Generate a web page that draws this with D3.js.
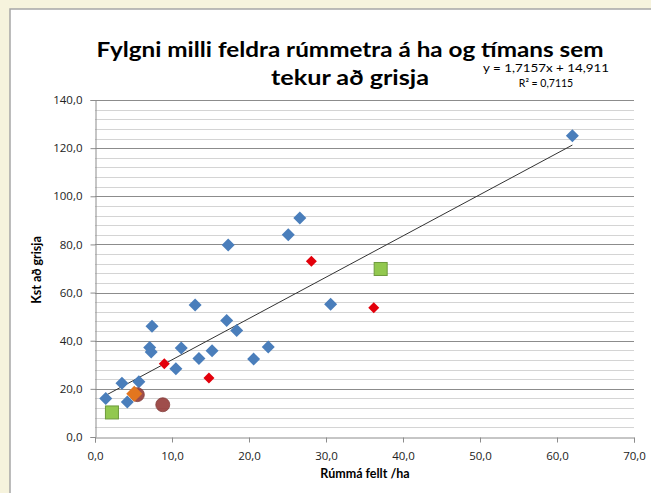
<!DOCTYPE html>
<html><head><meta charset="utf-8">
<script src="https://cdn.jsdelivr.net/npm/d3@7/dist/d3.min.js"></script>
<style>
html,body{margin:0;padding:0;background:#F6F3DD;}
svg{display:block;}
</style></head>
<body>
<svg id="c" width="651" height="493"></svg>
<script>
// ---- data ----
const titleLines = ["Fylgni milli feldra rúmmetra á ha og tímans sem", "tekur að grisja"];
const equationText = "y = 1,7157x + 14,911";
const r2Text = "R² = 0,7115";
const xTitle = "Rúmmá fellt /ha";
const yTitle = "Kst að grisja";
const xTicks = [0, 10, 20, 30, 40, 50, 60, 70];
const yTicks = [0, 20, 40, 60, 80, 100, 120, 140];
const trendSlope = 1.7157;
const trendIntercept = 14.911;

const blueX = [1.4, 3.5, 4.2, 5.7, 7.4, 7.1, 7.3, 10.5, 11.2, 13.0, 13.5, 15.2, 17.3, 17.1, 18.4, 20.6, 22.5, 25.1, 26.6, 30.6, 62.0];
const blueY = [16.0, 22.3, 14.5, 23.0, 46.0, 37.2, 35.3, 28.4, 37.0, 54.8, 32.6, 35.8, 79.8, 48.4, 44.2, 32.4, 37.4, 84.0, 91.0, 55.2, 125.2];
const redX = [9.0, 14.8, 28.1, 36.2];
const redY = [30.4, 24.5, 73.0, 53.7];
const greenX = [2.2, 37.1];
const greenY = [10.2, 69.8];
const brownX = [5.5, 8.8];
const brownY = [17.6, 13.4];
const orangeX = [5.1];
const orangeY = [18.0];

// ---- layout ----
const svg = d3.select("#c");
svg.append("rect").attr("x",10).attr("y",9).attr("width",651).attr("height",500)
  .attr("fill","#fff").attr("stroke","#A6A6A6").attr("stroke-width",1.5);

const x = d3.scaleLinear().domain([0,70]).range([95,634]);
const y = d3.scaleLinear().domain([0,140]).range([437,100]);

// gridlines (minor every 4, major every 20)
const minor = d3.range(0,141,4).filter(v=>v%20!==0);
svg.append("g").selectAll("line").data(minor).join("line")
  .attr("x1",x(0)).attr("x2",x(70)).attr("y1",d=>Math.round(y(d))+0.5).attr("y2",d=>Math.round(y(d))+0.5)
  .attr("stroke","#D4D4D4").attr("stroke-width",1);
svg.append("g").selectAll("line").data(yTicks.filter(v=>v>0)).join("line")
  .attr("x1",x(0)).attr("x2",x(70)).attr("y1",d=>Math.round(y(d))+0.5).attr("y2",d=>Math.round(y(d))+0.5)
  .attr("stroke","#8C8C8C").attr("stroke-width",1);

const fmt = d => d3.format(".1f")(d).replace(".", ",");
const tickFont = "'Open Sans', 'DejaVu Sans', sans-serif";

// y axis
const ya = svg.append("g").attr("transform",`translate(${x(0)+0.5},0)`)
  .call(d3.axisLeft(y).tickValues(yTicks).tickFormat(fmt).tickSize(5).tickPadding(8));
ya.select(".domain").attr("stroke","#8C8C8C");
ya.selectAll(".tick line").attr("stroke","#8C8C8C");
ya.selectAll("text").attr("font-family",tickFont).attr("font-size",11.5).attr("fill","#222");

// x axis
const xa = svg.append("g").attr("transform",`translate(0,${y(0)+0.5})`)
  .call(d3.axisBottom(x).tickValues(xTicks).tickFormat(fmt).tickSize(5).tickPadding(9));
xa.select(".domain").attr("stroke","#8C8C8C");
xa.selectAll(".tick line").attr("stroke","#8C8C8C");
xa.selectAll("text").attr("font-family",tickFont).attr("font-size",11.5).attr("fill","#222");

// trend line
const tx0 = d3.min(blueX), tx1 = d3.max(blueX);
svg.append("line")
  .attr("x1",x(tx0)).attr("y1",y(trendSlope*tx0+trendIntercept))
  .attr("x2",x(tx1)).attr("y2",y(trendSlope*tx1+trendIntercept))
  .attr("stroke","#333").attr("stroke-width",1);

// markers
function diamond(cx, cy, r){ return `M${cx},${cy-r}L${cx+r},${cy}L${cx},${cy+r}L${cx-r},${cy}Z`; }
const blue = blueX.map((v,i)=>[v,blueY[i]]);
svg.append("g").selectAll("path").data(blue).join("path")
  .attr("d",d=>diamond(x(d[0]),y(d[1]),6.5)).attr("fill","#4A7EBB");
const red = redX.map((v,i)=>[v,redY[i]]);
svg.append("g").selectAll("path").data(red).join("path")
  .attr("d",d=>diamond(x(d[0]),y(d[1]),5.5)).attr("fill","#E3000B");
const green = greenX.map((v,i)=>[v,greenY[i]]);
svg.append("g").selectAll("rect").data(green).join("rect")
  .attr("x",d=>x(d[0])-6.5).attr("y",d=>y(d[1])-6.5).attr("width",13).attr("height",13)
  .attr("fill","#92C84F").attr("stroke","#6E9A3C").attr("stroke-width",1);
const brown = brownX.map((v,i)=>[v,brownY[i]]);
svg.append("g").selectAll("circle").data(brown).join("circle")
  .attr("cx",d=>x(d[0])).attr("cy",d=>y(d[1])).attr("r",7)
  .attr("fill","#953B39").attr("stroke","#7A2E2C").attr("stroke-width",0.8).attr("opacity",0.9);
const orange = orangeX.map((v,i)=>[v,orangeY[i]]);
svg.append("g").selectAll("path").data(orange).join("path")
  .attr("d",d=>diamond(x(d[0]),y(d[1]),8)).attr("fill","#E3761F");

// titles
const titleFont = "Lato, 'Open Sans', sans-serif";
svg.append("text").attr("x",350).attr("y",57).attr("text-anchor","middle")
  .attr("font-family",titleFont).attr("font-weight","bold").attr("font-size",21).attr("fill","#000")
  .attr("textLength",507).attr("lengthAdjust","spacingAndGlyphs").text(titleLines[0]);
svg.append("text").attr("x",350).attr("y",85).attr("text-anchor","middle")
  .attr("font-family",titleFont).attr("font-weight","bold").attr("font-size",21).attr("fill","#000")
  .attr("textLength",158).attr("lengthAdjust","spacingAndGlyphs").text(titleLines[1]);

svg.append("text").attr("x",546).attr("y",72).attr("text-anchor","middle")
  .attr("font-family",titleFont).attr("font-size",10.5).attr("fill","#000")
  .attr("textLength",126).attr("lengthAdjust","spacingAndGlyphs").text(equationText);
svg.append("text").attr("x",546).attr("y",87).attr("text-anchor","middle")
  .attr("font-family",titleFont).attr("font-size",10.5).attr("fill","#000").text(r2Text);

svg.append("text").attr("x",365).attr("y",478).attr("text-anchor","middle")
  .attr("font-family",titleFont).attr("font-weight","bold").attr("font-size",12.5).attr("fill","#000").text(xTitle);
svg.append("text").attr("transform","translate(41,270) rotate(-90)").attr("text-anchor","middle")
  .attr("font-family",titleFont).attr("font-weight","bold").attr("font-size",12.5).attr("fill","#000").text(yTitle);
</script>
</body></html>
